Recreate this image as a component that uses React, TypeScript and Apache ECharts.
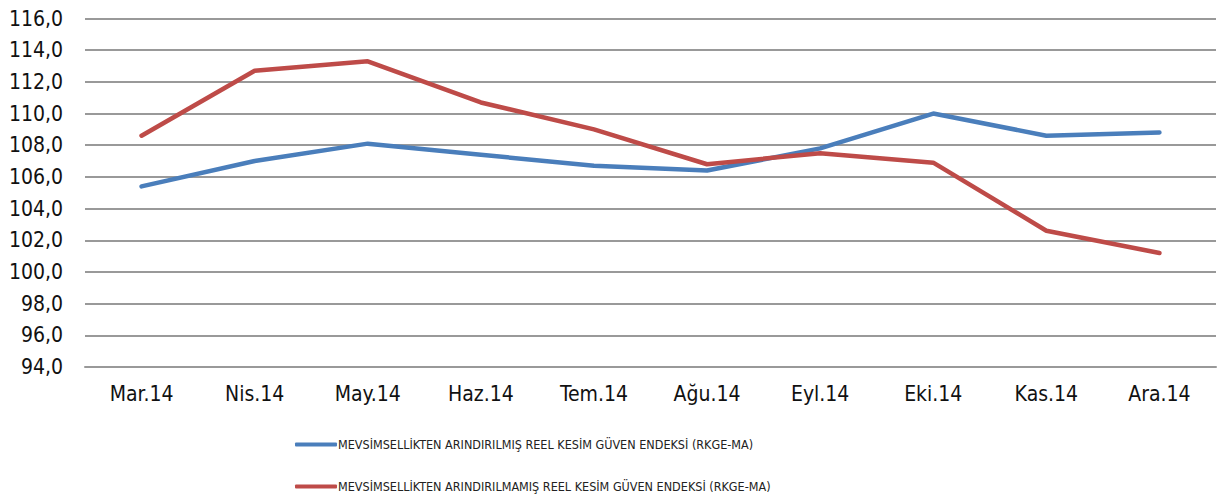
import React, { useEffect, useRef } from "react";
import * as echarts from "echarts";

const categories = ["Mar.14", "Nis.14", "May.14", "Haz.14", "Tem.14", "Ağu.14", "Eyl.14", "Eki.14", "Kas.14", "Ara.14"];
const seasonallyAdjusted = [105.4, 107.0, 108.1, 107.4, 106.7, 106.4, 107.8, 110.0, 108.6, 108.8];
const notAdjusted = [108.6, 112.7, 113.3, 110.7, 109.0, 106.8, 107.5, 106.9, 102.6, 101.2];
const nameA = "MEVSİMSELLİKTEN ARINDIRILMIŞ REEL KESİM GÜVEN ENDEKSİ (RKGE-MA)";
const nameB = "MEVSİMSELLİKTEN ARINDIRILMAMIŞ REEL KESİM GÜVEN ENDEKSİ (RKGE-MA)";

export default function App() {
  const ref = useRef<HTMLDivElement>(null);
  useEffect(() => {
    if (!ref.current) return;
    const chart = echarts.init(ref.current, undefined, { renderer: "svg" });
    const font = "'DejaVu Sans Condensed', 'DejaVu Sans', sans-serif";
    const legendBase = {
      orient: "horizontal",
      left: 295,
      itemWidth: 42,
      itemHeight: 4,
      icon: "roundRect",
      padding: 0,
      textStyle: { fontSize: 12.5, color: "#222", fontFamily: font, padding: [0, 0, 0, -4] },
    };
    chart.setOption({
      animation: false,
      textStyle: { fontFamily: font },
      grid: { left: 85, right: 2, top: 18.5, bottom: 134, containLabel: false },
      legend: [
        { ...legendBase, top: 438, data: [nameA] },
        { ...legendBase, top: 480, data: [nameB] },
      ],
      xAxis: {
        type: "category",
        data: categories,
        boundaryGap: true,
        axisLine: { show: true, lineStyle: { color: "#999", width: 2 } },
        axisTick: { show: false },
        axisLabel: { fontSize: 21, color: "#111", margin: 16, fontFamily: font },
      },
      yAxis: {
        type: "value",
        min: 94,
        max: 116,
        interval: 2,
        axisLine: { show: false },
        axisTick: { show: false },
        splitLine: { lineStyle: { color: "#999", width: 2 } },
        axisLabel: {
          fontSize: 21,
          color: "#111",
          margin: 22,
          fontFamily: font,
          formatter: (v: number) => v.toFixed(1).replace(".", ","),
        },
      },
      series: [
        {
          name: nameA,
          type: "line",
          data: seasonallyAdjusted,
          symbol: "none",
          lineStyle: { color: "#4a7ebb", width: 4.5, cap: "round" },
          itemStyle: { color: "#4a7ebb" },
        },
        {
          name: nameB,
          type: "line",
          data: notAdjusted,
          symbol: "none",
          lineStyle: { color: "#be4b48", width: 4.5, cap: "round" },
          itemStyle: { color: "#be4b48" },
        },
      ],
    });
    return () => chart.dispose();
  }, []);
  return <div ref={ref} style={{ width: 1218, height: 501, position: "absolute", left: 0, top: 0 }} />;
}
